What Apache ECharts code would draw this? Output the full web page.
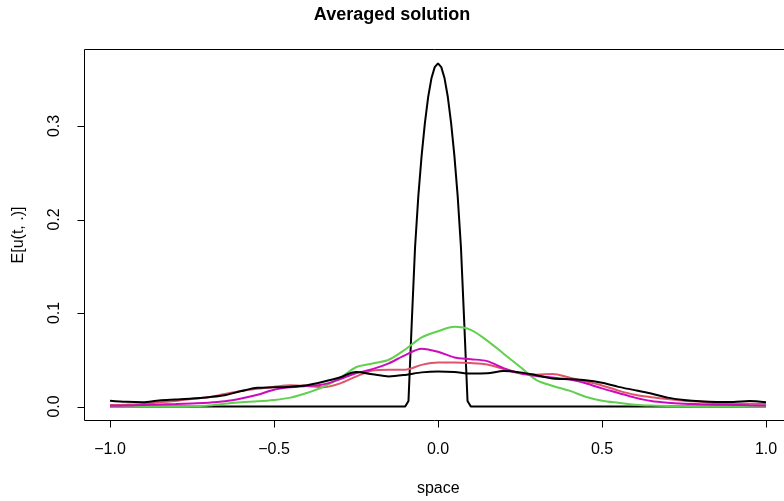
<!DOCTYPE html>
<html>
<head>
<meta charset="utf-8">
<script src="https://cdn.jsdelivr.net/npm/echarts@6/dist/echarts.min.js"></script>
<style>
html,body{margin:0;padding:0;background:#fff;}
#c{width:784px;height:501px;}
</style>
</head>
<body>
<div id="c"></div>
<script>
// ---- data ----
var xGrid = [-1.00,-0.95,-0.90,-0.85,-0.80,-0.75,-0.70,-0.65,-0.60,-0.55,-0.50,-0.45,-0.40,-0.35,-0.30,-0.25,-0.20,-0.15,-0.10,-0.05,
              0.00, 0.05, 0.10, 0.15, 0.20, 0.25, 0.30, 0.35, 0.40, 0.45, 0.50, 0.55, 0.60, 0.65, 0.70, 0.75, 0.80, 0.85, 0.90, 0.95, 1.00];

var redVals = [0.0017,0.0020,0.0027,0.0045,0.0060,0.0080,0.0098,0.0135,0.0165,0.0190,0.0210,0.0228,0.0220,0.0205,0.0245,0.0320,0.0385,0.0394,0.0394,0.0445,
               0.0470,0.0470,0.0465,0.0450,0.0400,0.0355,0.0340,0.0348,0.0310,0.0270,0.0225,0.0170,0.0125,0.0100,0.0080,0.0062,0.0050,0.0035,0.0030,0.0030,0.0030];

var greenVals = [0.0000,0.0000,0.0000,0.0000,0.0000,0.0005,0.0012,0.0030,0.0045,0.0055,0.0070,0.0095,0.0145,0.0210,0.0300,0.0420,0.0460,0.0500,0.0610,0.0740,
                 0.0805,0.0852,0.0820,0.0705,0.0565,0.0426,0.0283,0.0220,0.0170,0.0105,0.0062,0.0040,0.0020,0.0010,0.0005,0.0002,0.0000,0.0000,0.0000,0.0000,0.0000];

var magentaVals = [0.0007,0.0010,0.0017,0.0022,0.0027,0.0033,0.0040,0.0055,0.0085,0.0125,0.0180,0.0205,0.0218,0.0235,0.0290,0.0355,0.0400,0.0462,0.0550,0.0618,
                   0.0585,0.0525,0.0506,0.0485,0.0410,0.0355,0.0326,0.0310,0.0290,0.0248,0.0194,0.0145,0.0095,0.0058,0.0040,0.0030,0.0025,0.0020,0.0017,0.0013,0.0010];

var blackVals = [0.0062,0.0050,0.0045,0.0065,0.0075,0.0085,0.0100,0.0120,0.0165,0.0200,0.0205,0.0212,0.0228,0.0265,0.0310,0.0368,0.0345,0.0322,0.0338,0.0365,
                 0.0375,0.0370,0.0352,0.0355,0.0380,0.0365,0.0335,0.0300,0.0292,0.0280,0.0253,0.0210,0.0175,0.0138,0.0095,0.0070,0.0055,0.0049,0.0049,0.0058,0.0045];

var spikeX = [-1.00,-0.10,-0.09,-0.08,-0.07,-0.06,-0.05,-0.04,-0.03,-0.02,-0.01,0.00,0.01,0.02,0.03,0.04,0.05,0.06,0.07,0.08,0.09,0.10,1.00];
var spikeY = [0,0,0.006,0.090,0.170,0.225,0.268,0.303,0.331,0.351,0.363,0.367,0.363,0.351,0.331,0.303,0.268,0.225,0.170,0.090,0.006,0,0];

var xTicks = [-1.0,-0.5,0.0,0.5,1.0];
var yTicks = [0.0,0.1,0.2,0.3];

var titleText = 'Averaged solution';
var xName = 'space';
var yName = 'E[u(t, .)]';

// ---- chart ----
var FONT = '"Liberation Sans", Arial, Helvetica, sans-serif';
var TICK_LEN = 7;
function pairs(xs, ys){ return xs.map(function(x,i){ return [x, ys[i]]; }); }
function fmt(v){ return v.toFixed(1).replace('-', '\u2212'); }

var chart = echarts.init(document.getElementById('c'), null, {renderer:'canvas'});
function lineSeries(data, color, smooth){
  return {type:'line', xAxisIndex:0, yAxisIndex:0, data:data, showSymbol:false, symbol:'none', smooth:smooth,
          clip:false, lineStyle:{color:color, width:2}, itemStyle:{color:color}, z:2};
}
var G = {containLabel:false, outerBoundsMode:'none', show:false};
function hiddenAxis(gi){ return {type:'value', gridIndex:gi, min:0, max:1, show:false}; }

// tick marks drawn through the axis scales (outward from the frame)
function xTickSeries(){
  return {type:'custom', xAxisIndex:3, yAxisIndex:3, clip:false, silent:true, z:5,
          data:xTicks.map(function(v){ return [v, 0]; }),
          renderItem:function(params, api){
            var p = api.coord([api.value(0), api.value(1)]);
            var x = Math.round(p[0]) + 0.5, y = p[1];
            return {type:'line', shape:{x1:x, y1:y, x2:x, y2:y + TICK_LEN},
                    style:{stroke:'#000', lineWidth:1}};
          }};
}
function yTickSeries(){
  return {type:'custom', xAxisIndex:2, yAxisIndex:2, clip:false, silent:true, z:5,
          data:yTicks.map(function(v){ return [0, v]; }),
          renderItem:function(params, api){
            var p = api.coord([api.value(0), api.value(1)]);
            var x = p[0], y = Math.round(p[1]) + 0.5;
            return {type:'line', shape:{x1:x, y1:y, x2:x - TICK_LEN, y2:y},
                    style:{stroke:'#000', lineWidth:1}};
          }};
}

chart.setOption({
  animation:false,
  backgroundColor:'#ffffff',
  title:{text:titleText, left:'center', top:1,
         textStyle:{fontFamily:FONT, fontSize:18, fontWeight:'bold', color:'#000'}},
  grid:[
    // 0: data area spanning the tick range (-1..1, 0..0.3)
    Object.assign({left:110, right:18, top:126, bottom:94.5}, G),
    // 1: plot frame (R box) + axis titles
    Object.assign({}, G, {left:84.5, right:-8, top:49.5, bottom:80.5, show:true, borderColor:'#000', borderWidth:1, backgroundColor:'transparent'}),
    // 2: y labels on the frame's left edge
    Object.assign({left:84.5, right:-8, top:126, bottom:94.5}, G),
    // 3: x labels on the frame's bottom edge
    Object.assign({left:110, right:18, top:49.5, bottom:80.5}, G)
  ],
  xAxis:[
    {type:'value', gridIndex:0, min:-1, max:1, show:false},
    {type:'value', gridIndex:1, min:0, max:1, show:true,
     name:xName, nameLocation:'middle', nameGap:60,
     nameTextStyle:{fontFamily:FONT, fontSize:16, color:'#000'},
     axisLine:{show:false}, axisTick:{show:false}, axisLabel:{show:false}, splitLine:{show:false}},
    hiddenAxis(2),
    {type:'value', gridIndex:3, min:-1, max:1, show:true,
     axisLine:{show:false}, splitLine:{show:false}, axisTick:{show:false},
     axisLabel:{show:true, customValues:xTicks, margin:21, formatter:fmt, fontFamily:FONT, fontSize:16, color:'#000'}}
  ],
  yAxis:[
    {type:'value', gridIndex:0, min:0, max:0.3, show:false},
    {type:'value', gridIndex:1, min:0, max:1, show:true,
     name:yName, nameLocation:'middle', nameGap:58, nameRotate:90,
     nameTextStyle:{fontFamily:FONT, fontSize:16, color:'#000'},
     axisLine:{show:false}, axisTick:{show:false}, axisLabel:{show:false}, splitLine:{show:false}},
    {type:'value', gridIndex:2, min:0, max:0.3, show:true,
     axisLine:{show:false}, splitLine:{show:false}, axisTick:{show:false},
     axisLabel:{show:true, customValues:yTicks, rotate:90, margin:22, formatter:function(v){return v.toFixed(1);},
                fontFamily:FONT, fontSize:16, color:'#000'}},
    hiddenAxis(3)
  ],
  series:[
    lineSeries(pairs(spikeX, spikeY), '#000000', false),
    lineSeries(pairs(xGrid, redVals), '#DF536B', 0.3),
    lineSeries(pairs(xGrid, greenVals), '#61D04F', 0.3),
    lineSeries(pairs(xGrid, magentaVals), '#CD0BBC', 0.3),
    lineSeries(pairs(xGrid, blackVals), '#000000', 0.3),
    xTickSeries(),
    yTickSeries()
  ]
});
</script>
</body>
</html>
